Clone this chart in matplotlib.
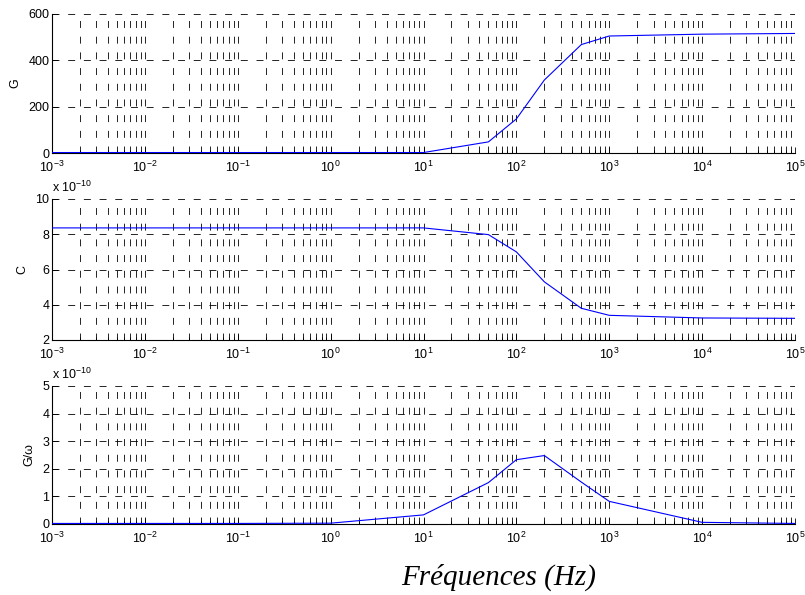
import matplotlib
matplotlib.use("Agg")
import matplotlib.pyplot as plt
import numpy as np
from matplotlib.ticker import LogLocator, NullFormatter, FixedLocator

plt.rcParams['font.family'] = ['Liberation Sans', 'DejaVu Sans']
plt.rcParams['mathtext.fontset'] = 'custom'
plt.rcParams['mathtext.rm'] = 'Liberation Sans'
plt.rcParams['mathtext.it'] = 'Liberation Sans:italic'
plt.rcParams['lines.scale_dashes'] = False

# Data
freq = [1e-3, 1e-2, 1e-1, 1e0, 1e1, 50, 100, 200, 500, 1e3, 1e4, 1e5]
G = [2, 2, 2, 2, 2, 48, 147, 315, 468, 505, 513, 516]
C_e10 = [8.36, 8.36, 8.36, 8.36, 8.36, 7.98, 7.0, 5.3, 3.8, 3.4, 3.25, 3.23]  # x 1e-10
Gw_e10 = [0.02, 0.02, 0.02, 0.03, 0.33, 1.5, 2.33, 2.48, 1.52, 0.82, 0.06, 0.02]  # x 1e-10
xtick_vals = [1e-3, 1e-2, 1e-1, 1e0, 1e1, 1e2, 1e3, 1e4, 1e5]
xtick_labels = [r'$10^{-3}$', r'$10^{-2}$', r'$10^{-1}$', r'$10^{0}$', r'$10^{1}$',
                r'$10^{2}$', r'$10^{3}$', r'$10^{4}$', r'$10^{5}$']
ylabels = ['G', 'C', 'G/ω']
yticks_list = [[0, 200, 400, 600], [2, 4, 6, 8, 10], [0, 1, 2, 3, 4, 5]]
ylims = [(0, 600), (2, 10), (0, 5)]
series = [G, C_e10, Gw_e10]
offset_texts = [None, r'x 10$^{-10}$', r'x 10$^{-10}$']

W, H = 805, 595
fig = plt.figure(figsize=(W / 100, H / 100), dpi=100)

left, right = 52, 795
rows = [(14, 153), (199, 340), (386, 524)]
dash = (0, (5.0, 6.3))

for i, (top, bot) in enumerate(rows):
    ax = fig.add_axes([left / W, 1 - bot / H, (right - left) / W, (bot - top) / H])
    ax.set_xscale('log')
    ax.set_xlim(1e-3, 1e5)
    ax.set_ylim(*ylims[i])
    ax.plot(freq, series[i], color=(0, 0, 1), lw=0.8, zorder=3)
    ax.xaxis.set_major_locator(FixedLocator(xtick_vals))
    ax.set_xticklabels(xtick_labels)
    ax.xaxis.set_minor_locator(LogLocator(base=10, subs=np.arange(2, 10), numticks=100))
    ax.xaxis.set_minor_formatter(NullFormatter())
    ax.set_yticks(yticks_list[i])
    ax.set_yticklabels([str(v) for v in yticks_list[i]])
    ax.tick_params(which='both', direction='in', labelsize=9, top=False, right=False,
                   colors='black')
    ax.tick_params(axis='x', pad=5)
    ax.tick_params(axis='y', pad=2)
    ax.tick_params(which='major', length=4, width=0.6)
    ax.tick_params(which='minor', length=2, width=0.6)
    ax.grid(True, which='both', axis='x', color='black', lw=0.6, linestyle=dash)
    ax.grid(True, which='major', axis='y', color='black', lw=0.6, linestyle=dash)
    ax.spines['top'].set_visible(False)
    ax.spines['right'].set_visible(False)
    ax.spines['left'].set_linewidth(0.8)
    ax.spines['bottom'].set_linewidth(0.8)
    ax.set_ylabel(ylabels[i], fontsize=9, labelpad=5)
    if offset_texts[i]:
        ax.text(0.0, 1.03, offset_texts[i], transform=ax.transAxes, fontsize=9,
                ha='left', va='bottom')

fig.text(499 / W, 1 - 577 / H, 'Fréquences (Hz)', fontsize=21, style='italic',
         family=['Liberation Serif', 'DejaVu Serif'], ha='center', va='center')

fig.savefig('out.png', dpi=100)
